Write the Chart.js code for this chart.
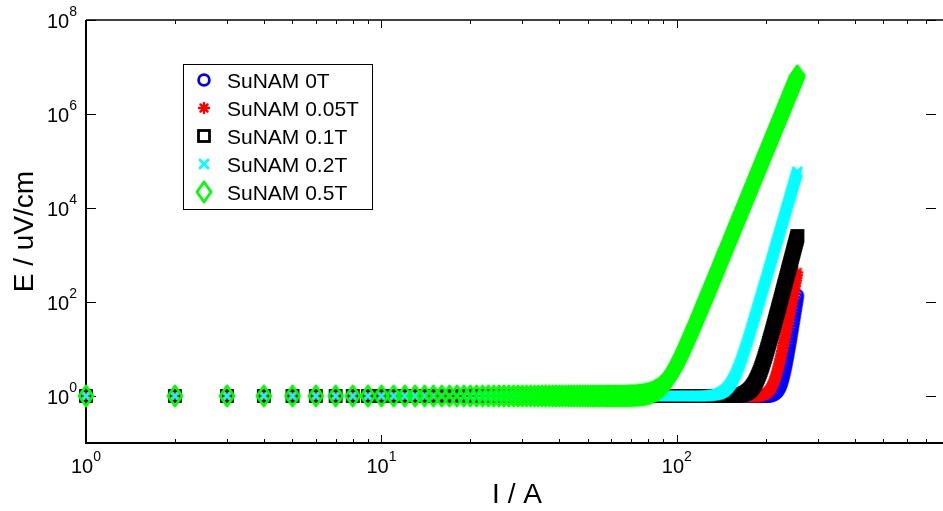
<!DOCTYPE html>
<html>
<head>
<meta charset="utf-8">
<script src="https://cdn.jsdelivr.net/npm/chart.js@4"></script>
<style>
    html, body { margin: 0; padding: 0; background: #ffffff; }
    #wrap { width: 943px; height: 511px; }
</style>
</head>
<body>
<div id="wrap"><canvas id="ecChart" width="943" height="511"></canvas></div>
<script>
// ============================================================
// E-I curves of SuNAM tape at several fields (log-log)
// ============================================================

// current I / A (shared by every series)
const currentA = [
    1, 2, 3, 4, 5, 6, 7, 8, 9, 10, 11, 12, 13, 14, 15, 16, 17, 18, 19, 20,
    21, 22, 23, 24, 25, 26, 27, 28, 29, 30, 31, 32, 33, 34, 35, 36, 37, 38, 39, 40,
    41, 42, 43, 44, 45, 46, 47, 48, 49, 50, 51, 52, 53, 54, 55, 56, 57, 58, 59, 60,
    61, 62, 63, 64, 65, 66, 67, 68, 69, 70, 71, 72, 73, 74, 75, 76, 77, 78, 79, 80,
    81, 82, 83, 84, 85, 86, 87, 88, 89, 90, 91, 92, 93, 94, 95, 96, 97, 98, 99, 100,
    101, 102, 103, 104, 105, 106, 107, 108, 109, 110, 111, 112, 113, 114, 115, 116, 117, 118, 119, 120,
    121, 122, 123, 124, 125, 126, 127, 128, 129, 130, 131, 132, 133, 134, 135, 136, 137, 138, 139, 140,
    141, 142, 143, 144, 145, 146, 147, 148, 149, 150, 151, 152, 153, 154, 155, 156, 157, 158, 159, 160,
    161, 162, 163, 164, 165, 166, 167, 168, 169, 170, 171, 172, 173, 174, 175, 176, 177, 178, 179, 180,
    181, 182, 183, 184, 185, 186, 187, 188, 189, 190, 191, 192, 193, 194, 195, 196, 197, 198, 199, 200,
    201, 202, 203, 204, 205, 206, 207, 208, 209, 210, 211, 212, 213, 214, 215, 216, 217, 218, 219, 220,
    221, 222, 223, 224, 225, 226, 227, 228, 229, 230, 231, 232, 233, 234, 235, 236, 237, 238, 239, 240,
    241, 242, 243, 244, 245, 246, 247, 248, 249, 250, 251, 252, 253, 254, 255, 256
];

// E / uV/cm for each field, one value per current above
const field0T = [
    1, 1, 1, 1, 1, 1, 1, 1, 1, 1, 1, 1, 1, 1, 1, 1, 1, 1, 1, 1,
    1, 1, 1, 1, 1, 1, 1, 1, 1, 1, 1, 1, 1, 1, 1, 1, 1, 1, 1, 1,
    1, 1, 1, 1, 1, 1, 1, 1, 1, 1, 1, 1, 1, 1, 1, 1, 1, 1, 1, 1,
    1, 1, 1, 1, 1, 1, 1, 1, 1, 1, 1, 1, 1, 1, 1, 1, 1, 1, 1, 1,
    1, 1, 1, 1, 1, 1, 1, 1, 1, 1, 1, 1, 1, 1, 1, 1, 1, 1, 1, 1,
    1, 1, 1, 1, 1, 1, 1, 1, 1, 1, 1, 1, 1, 1, 1, 1, 1, 1, 1, 1,
    1, 1, 1, 1, 1, 1, 1, 1, 1, 1, 1, 1, 1, 1, 1, 1, 1, 1, 1, 1,
    1, 1, 1, 1, 1, 1, 1, 1, 1, 1, 1, 1, 1, 1, 1, 1, 1, 1, 1, 1,
    1, 1, 1, 1, 1, 1, 1, 1, 1, 1, 1, 1, 1, 1, 1, 1, 1, 1, 1, 1,
    1, 1, 1, 1, 1, 1, 1, 1, 1, 1, 1, 1, 1, 1, 1, 1, 1, 1, 1, 1,
    1, 1, 1, 1, 1.02, 1.02, 1.03, 1.03, 1.04, 1.05, 1.06, 1.07, 1.09, 1.11, 1.13, 1.15, 1.19, 1.22, 1.27, 1.32,
    1.39, 1.46, 1.55, 1.66, 1.79, 1.94, 2.12, 2.34, 2.59, 2.90, 3.26, 3.69, 4.21, 4.78, 5.51, 6.32, 7.28, 8.48, 9.83, 11.4,
    13.3, 15.5, 18.1, 21.2, 24.9, 28.9, 34.0, 39.9, 46.5, 54.2, 63.8, 74.5, 86.9, 101, 118, 138
];
const field005T = [
    1, 1, 1, 1, 1, 1, 1, 1, 1, 1, 1, 1, 1, 1, 1, 1, 1, 1, 1, 1,
    1, 1, 1, 1, 1, 1, 1, 1, 1, 1, 1, 1, 1, 1, 1, 1, 1, 1, 1, 1,
    1, 1, 1, 1, 1, 1, 1, 1, 1, 1, 1, 1, 1, 1, 1, 1, 1, 1, 1, 1,
    1, 1, 1, 1, 1, 1, 1, 1, 1, 1, 1, 1, 1, 1, 1, 1, 1, 1, 1, 1,
    1, 1, 1, 1, 1, 1, 1, 1, 1, 1, 1, 1, 1, 1, 1, 1, 1, 1, 1, 1,
    1, 1, 1, 1, 1, 1, 1, 1, 1, 1, 1, 1, 1, 1, 1, 1, 1, 1, 1, 1,
    1, 1, 1, 1, 1, 1, 1, 1, 1, 1, 1, 1, 1, 1, 1, 1, 1, 1, 1, 1,
    1, 1, 1, 1, 1, 1, 1, 1, 1, 1, 1, 1, 1, 1, 1, 1, 1, 1, 1, 1,
    1, 1, 1, 1, 1, 1, 1, 1, 1, 1, 1, 1, 1, 1, 1, 1, 1, 1, 1, 1,
    1, 1, 1, 1, 1, 1, 1, 1, 1.02, 1.02, 1.03, 1.03, 1.04, 1.04, 1.05, 1.06, 1.07, 1.09, 1.10, 1.12,
    1.15, 1.17, 1.20, 1.24, 1.28, 1.33, 1.38, 1.45, 1.52, 1.62, 1.72, 1.84, 1.98, 2.15, 2.33, 2.56, 2.82, 3.12, 3.45, 3.85,
    4.32, 4.86, 5.47, 6.16, 7.01, 7.93, 9.02, 10.3, 11.7, 13.4, 15.3, 17.5, 20.1, 22.9, 26.2, 30.0, 34.2, 39.4, 45.0, 51.5,
    58.8, 67.2, 77.0, 88.1, 101, 115, 131, 150, 171, 195, 223, 253, 288, 328, 373, 425
];
const field01T = [
    1, 1, 1, 1, 1, 1, 1, 1, 1, 1, 1, 1, 1, 1, 1, 1, 1, 1, 1, 1,
    1, 1, 1, 1, 1, 1, 1, 1, 1, 1, 1, 1, 1, 1, 1, 1, 1, 1, 1, 1,
    1, 1, 1, 1, 1, 1, 1, 1, 1, 1, 1, 1, 1, 1, 1, 1, 1, 1, 1, 1,
    1, 1, 1, 1, 1, 1, 1, 1, 1, 1, 1, 1, 1, 1, 1, 1, 1, 1, 1, 1,
    1, 1, 1, 1, 1, 1, 1, 1, 1, 1, 1, 1, 1, 1, 1, 1, 1, 1, 1, 1,
    1, 1, 1, 1, 1, 1, 1, 1, 1, 1, 1, 1, 1, 1, 1, 1, 1, 1, 1, 1,
    1, 1, 1, 1, 1, 1, 1, 1, 1, 1, 1, 1, 1, 1, 1, 1, 1, 1, 1, 1,
    1, 1, 1, 1, 1, 1, 1, 1, 1, 1, 1, 1, 1, 1, 1, 1, 1.02, 1.02, 1.03, 1.03,
    1.04, 1.04, 1.05, 1.06, 1.07, 1.08, 1.09, 1.10, 1.12, 1.14, 1.16, 1.18, 1.21, 1.24, 1.28, 1.32, 1.36, 1.42, 1.48, 1.54,
    1.62, 1.71, 1.81, 1.92, 2.05, 2.19, 2.35, 2.55, 2.75, 2.99, 3.25, 3.55, 3.90, 4.27, 4.70, 5.20, 5.74, 6.36, 7.05, 7.79,
    8.67, 9.67, 10.7, 11.9, 13.3, 14.9, 16.6, 18.5, 20.5, 22.9, 25.6, 28.5, 31.9, 35.5, 39.5, 44.3, 49.3, 55.0, 61.0, 68.0,
    75.8, 84.6, 93.7, 104, 116, 129, 143, 159, 176, 195, 217, 241, 268, 295, 328, 362, 400, 444, 491, 542,
    598, 660, 729, 806, 890, 978, 1080, 1190, 1310, 1440, 1590, 1750, 1910, 2100, 2310, 2540
];
const field02T = [
    1, 1, 1, 1, 1, 1, 1, 1, 1, 1, 1, 1, 1, 1, 1, 1, 1, 1, 1, 1,
    1, 1, 1, 1, 1, 1, 1, 1, 1, 1, 1, 1, 1, 1, 1, 1, 1, 1, 1, 1,
    1, 1, 1, 1, 1, 1, 1, 1, 1, 1, 1, 1, 1, 1, 1, 1, 1, 1, 1, 1,
    1, 1, 1, 1, 1, 1, 1, 1, 1, 1, 1, 1, 1, 1, 1, 1, 1, 1, 1, 1,
    1, 1, 1, 1, 1, 1, 1, 1, 1, 1, 1, 1, 1, 1, 1, 1, 1, 1, 1, 1,
    1, 1, 1, 1, 1, 1, 1, 1, 1, 1, 1, 1, 1, 1, 1, 1, 1, 1, 1, 1,
    1, 1, 1, 1, 1, 1, 1.02, 1.02, 1.02, 1.03, 1.03, 1.04, 1.05, 1.05, 1.06, 1.07, 1.09, 1.10, 1.12, 1.14,
    1.16, 1.19, 1.22, 1.25, 1.29, 1.34, 1.39, 1.46, 1.53, 1.61, 1.70, 1.81, 1.93, 2.07, 2.23, 2.41, 2.62, 2.86, 3.13, 3.43,
    3.78, 4.18, 4.63, 5.13, 5.72, 6.37, 7.11, 7.95, 8.91, 9.95, 11.2, 12.5, 14.0, 15.8, 17.7, 19.9, 22.4, 25.1, 28.2, 31.7,
    35.6, 39.9, 44.9, 50.1, 56.3, 63.0, 70.5, 79.2, 88.7, 99.2, 110, 124, 138, 154, 172, 192, 215, 239, 266, 295,
    330, 367, 407, 452, 505, 559, 620, 688, 760, 842, 934, 1030, 1150, 1260, 1400, 1550, 1710, 1890, 2080, 2290,
    2530, 2790, 3060, 3370, 3720, 4080, 4490, 4930, 5420, 5960, 6530, 7180, 7890, 8630, 9480, 1.04e4, 1.13e4, 1.24e4, 1.36e4, 1.49e4,
    1.63e4, 1.78e4, 1.94e4, 2.12e4, 2.32e4, 2.52e4, 2.76e4, 3.02e4, 3.28e4, 3.57e4, 3.91e4, 4.25e4, 4.62e4, 5.02e4, 5.47e4, 5.94e4
];
const field05T = [
    1, 1, 1, 1, 1, 1, 1, 1, 1, 1, 1, 1, 1, 1, 1, 1, 1, 1, 1, 1,
    1, 1, 1, 1, 1, 1, 1, 1, 1, 1, 1, 1, 1, 1, 1, 1, 1, 1, 1, 1,
    1, 1, 1, 1, 1, 1, 1, 1, 1, 1, 1, 1, 1, 1, 1, 1, 1, 1, 1, 1,
    1, 1, 1, 1, 1, 1, 1, 1.01, 1.01, 1.02, 1.02, 1.02, 1.03, 1.04, 1.05, 1.05, 1.07, 1.08, 1.10, 1.12,
    1.15, 1.18, 1.21, 1.26, 1.31, 1.37, 1.44, 1.52, 1.62, 1.74, 1.87, 2.03, 2.22, 2.43, 2.68, 2.98, 3.32, 3.71, 4.16, 4.70,
    5.30, 6.0, 6.79, 7.7, 8.80, 10.0, 11.4, 13.0, 14.8, 16.9, 19.2, 21.9, 25.0, 28.4, 32.3, 36.8, 41.8, 47.6, 53.8, 61,
    69.2, 79, 88.7, 100, 113, 127, 144, 161, 183, 204, 231, 259, 291, 325, 365, 407, 457, 511, 570, 635,
    709, 791, 880, 979, 1090, 1210, 1340, 1490, 1650, 1830, 2020, 2230, 2480, 2730, 3010, 3330, 3670, 4060, 4460, 4900,
    5400, 5930, 6520, 7150, 7850, 8610, 9440, 1.04e4, 1.13e4, 1.24e4, 1.36e4, 1.48e4, 1.62e4, 1.77e4, 1.93e4, 2.11e4, 2.30e4, 2.51e4, 2.74e4, 2.98e4,
    3.24e4, 3.52e4, 3.84e4, 4.16e4, 4.53e4, 4.91e4, 5.32e4, 5.79e4, 6.28e4, 6.81e4, 7.36e4, 7.98e4, 8.65e4, 9.35e4, 1.01e5, 1.10e5, 1.18e5, 1.28e5, 1.38e5, 1.49e5,
    1.61e5, 1.74e5, 1.87e5, 2.01e5, 2.18e5, 2.34e5, 2.52e5, 2.72e5, 2.92e5, 3.14e5, 3.38e5, 3.63e5, 3.91e5, 4.20e5, 4.50e5, 4.84e5, 5.20e5, 5.58e5, 5.97e5, 6.40e5,
    6.87e5, 7.38e5, 7.89e5, 8.43e5, 9.04e5, 9.66e5, 1.03e6, 1.10e6, 1.18e6, 1.26e6, 1.35e6, 1.45e6, 1.55e6, 1.64e6, 1.76e6, 1.88e6, 2.00e6, 2.14e6, 2.28e6, 2.43e6,
    2.58e6, 2.75e6, 2.93e6, 3.13e6, 3.33e6, 3.53e6, 3.77e6, 4.01e6, 4.26e6, 4.52e6, 4.82e6, 5.12e6, 5.43e6, 5.77e6, 6.12e6, 6.50e6
];

const seriesLabels = ['SuNAM 0T', 'SuNAM 0.05T', 'SuNAM 0.1T', 'SuNAM 0.2T', 'SuNAM 0.5T'];

// axis ticks
const xMajorTicks = [1, 10, 100];
const xMinorTicks = [2, 3, 4, 5, 6, 7, 8, 9, 20, 30, 40, 50, 60, 70, 80, 90, 200, 300, 400, 500, 600, 700];
const yMajorTicks = [1, 100, 1e4, 1e6, 1e8];

const FONT = '"Liberation Sans", Arial, Helvetica, sans-serif';

// Build a marker bitmap (MATLAB-like hollow symbols)
function makeMarker(w, h, draw) {
    const c = document.createElement('canvas');
    c.width = w;
    c.height = h;
    const g = c.getContext('2d');
    g.lineJoin = 'round';
    g.lineCap = 'round';
    draw(g);
    return c;
}

const markerCircle = makeMarker(16, 16, g => {
    g.strokeStyle = '#0000ff';
    g.lineWidth = 2.8;
    g.beginPath();
    g.arc(8, 8, 5.4, 0, Math.PI * 2);
    g.stroke();
});
const markerStar = makeMarker(14, 14, g => {
    g.strokeStyle = '#ff0000';
    g.lineWidth = 2.4;
    g.beginPath();
    for (let k = 0; k < 4; k++) {
        const a = k * Math.PI / 4;
        g.moveTo(7 - 5 * Math.cos(a), 7 - 5 * Math.sin(a));
        g.lineTo(7 + 5 * Math.cos(a), 7 + 5 * Math.sin(a));
    }
    g.stroke();
});
const markerSquare = makeMarker(16, 16, g => {
    g.strokeStyle = '#000000';
    g.lineWidth = 2.8;
    g.lineJoin = 'miter';
    g.strokeRect(2.5, 2.5, 11, 11);
});
const markerCross = makeMarker(12, 12, g => {
    g.strokeStyle = '#00ffff';
    g.lineWidth = 2.8;
    g.beginPath();
    g.moveTo(2, 2); g.lineTo(10, 10);
    g.moveTo(10, 2); g.lineTo(2, 10);
    g.stroke();
});
const markerDiamond = makeMarker(20, 24, g => {
    g.strokeStyle = '#00ff00';
    g.lineWidth = 2.8;
    g.beginPath();
    g.moveTo(10, 2); g.lineTo(17, 12); g.lineTo(10, 22); g.lineTo(3, 12);
    g.closePath();
    g.stroke();
});

const seriesValues = [field0T, field005T, field01T, field02T, field05T];
const seriesMarkers = [markerCircle, markerStar, markerSquare, markerCross, markerDiamond];

// Frame, ticks, labels and legend, drawn MATLAB style
const matlabAxes = {
    id: 'matlabAxes',
    beforeDatasetsDraw(chart) {
        const { ctx, chartArea: a, scales: { x, y } } = chart;
        ctx.save();
        ctx.strokeStyle = '#000000';
        ctx.lineWidth = 1;
        ctx.beginPath();
        xMinorTicks.forEach(v => {
            const px = Math.round(x.getPixelForValue(v)) + 0.5;
            ctx.moveTo(px, a.bottom); ctx.lineTo(px, a.bottom - 4);
            ctx.moveTo(px, a.top); ctx.lineTo(px, a.top + 4);
        });
        xMajorTicks.forEach(v => {
            const px = Math.round(x.getPixelForValue(v)) + 0.5;
            ctx.moveTo(px, a.bottom); ctx.lineTo(px, a.bottom - 8);
            ctx.moveTo(px, a.top); ctx.lineTo(px, a.top + 8);
        });
        yMajorTicks.forEach(v => {
            const py = Math.round(y.getPixelForValue(v)) + 0.5;
            ctx.moveTo(a.left, py); ctx.lineTo(a.left + 10, py);
            ctx.moveTo(a.right, py); ctx.lineTo(a.right - 10, py);
        });
        ctx.stroke();

        ctx.lineWidth = 2;
        ctx.beginPath();
        ctx.moveTo(a.left, a.top);
        ctx.lineTo(a.left, a.bottom);
        ctx.lineTo(chart.width, a.bottom);
        ctx.stroke();
        ctx.lineWidth = 1.5;
        ctx.beginPath();
        ctx.moveTo(a.left, a.top);
        ctx.lineTo(chart.width, a.top);
        ctx.stroke();
        ctx.restore();
    },
    afterDraw(chart) {
        const { ctx, chartArea: a, scales: { x, y } } = chart;
        ctx.save();
        ctx.fillStyle = '#000000';
        ctx.textAlign = 'left';
        ctx.textBaseline = 'alphabetic';

        // power-of-ten tick labels
        const drawPow = (exp, left, base) => {
            ctx.font = '20px ' + FONT;
            const w10 = ctx.measureText('10').width;
            ctx.fillText('10', left, base);
            ctx.font = '14px ' + FONT;
            ctx.fillText(String(exp), left + w10, base - 12);
        };
        const powWidth = exp => {
            ctx.font = '20px ' + FONT;
            const w10 = ctx.measureText('10').width;
            ctx.font = '14px ' + FONT;
            return w10 + ctx.measureText(String(exp)).width;
        };
        xMajorTicks.forEach(v => {
            const exp = Math.round(Math.log10(v));
            const px = x.getPixelForValue(v);
            drawPow(exp, px - powWidth(exp) / 2, 473);
        });
        yMajorTicks.forEach(v => {
            const exp = Math.round(Math.log10(v));
            const py = y.getPixelForValue(v);
            drawPow(exp, 77 - powWidth(exp), py + 8);
        });

        // axis titles
        ctx.font = '28px ' + FONT;
        ctx.textAlign = 'center';
        ctx.fillText('I / A', 517, 503);
        ctx.save();
        ctx.translate(33, (a.top + a.bottom) / 2);
        ctx.rotate(-Math.PI / 2);
        ctx.fillText('E / uV/cm', 0, 0);
        ctx.restore();

        // legend box
        ctx.fillStyle = '#ffffff';
        ctx.fillRect(183, 64, 189, 145);
        ctx.strokeStyle = '#000000';
        ctx.lineWidth = 1;
        ctx.strokeRect(183.5, 64.5, 189, 145);
        ctx.font = '21px ' + FONT;
        ctx.textAlign = 'left';
        ctx.fillStyle = '#000000';
        seriesLabels.forEach((label, i) => {
            const yc = 80 + i * 28;
            const m = seriesMarkers[i];
            ctx.drawImage(m, 204 - m.width / 2, yc - m.height / 2);
            ctx.fillText(label, 227, yc + 8);
        });
        ctx.restore();
    }
};

const datasets = seriesValues.map((vals, i) => ({
    label: seriesLabels[i],
    data: currentA.map((cur, k) => ({ x: cur, y: vals[k] })),
    pointStyle: seriesMarkers[i],
    pointRadius: 6,
    showLine: false,
    clip: false,
    order: seriesValues.length - 1 - i
}));

new Chart(document.getElementById('ecChart'), {
    type: 'scatter',
    data: { datasets: datasets },
    options: {
        responsive: false,
        animation: false,
        events: [],
        layout: { padding: { top: 20, right: 1, left: 0, bottom: 0 } },
        plugins: {
            legend: { display: false },
            tooltip: { enabled: false }
        },
        scales: {
            x: {
                type: 'logarithmic',
                min: 1,
                max: 754,
                ticks: { display: false },
                grid: { display: false },
                border: { display: false },
                afterFit: s => { s.height = 68; }
            },
            y: {
                type: 'logarithmic',
                min: 0.1,
                max: 1e8,
                ticks: { display: false },
                grid: { display: false },
                border: { display: false },
                afterFit: s => { s.width = 86; }
            }
        }
    },
    plugins: [matlabAxes]
});
</script>
</body>
</html>
